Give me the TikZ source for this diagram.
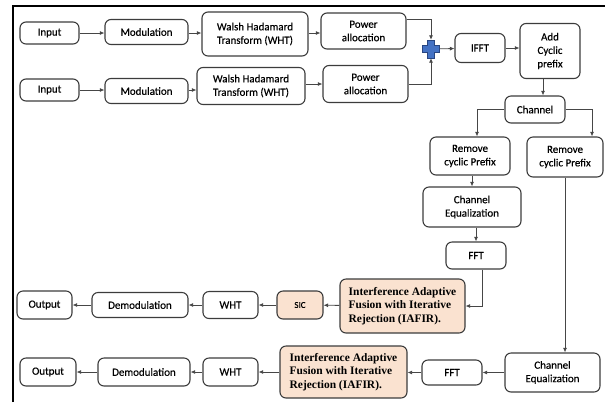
\documentclass[tikz,border=0pt]{standalone}
\usepackage{fontspec}
\setmainfont{Carlito}[BoldFont=Carlito, BoldFeatures={FakeBold=0.35}]
\newfontfamily\iafirfont{Liberation Serif}
\usetikzlibrary{arrows.meta}
\definecolor{boxline}{RGB}{60,60,60}
\definecolor{linkline}{RGB}{70,70,70}
\definecolor{peach}{RGB}{250,226,208}
\definecolor{plusfill}{RGB}{68,114,196}
\definecolor{plusline}{RGB}{40,70,130}
\tikzset{
    % Le style des blocs ordinaires de la chaine
    block/.style={
        draw=boxline,
        fill=white,
        line width=1.1bp,
        rounded corners=6bp,
        align=center,
        inner sep=1bp,
        font=\bfseries\fontsize{11}{13.5}\selectfont
    },
    % Le style des blocs de reception mis en avant (IAFIR, SIC)
    block_hl/.style={
        block,
        fill=peach
    },
    % Le style des liaisons entre blocs
    link/.style={
        draw=linkline,
        line width=0.8bp,
        -{Latex[length=4.5bp,width=4bp]}
    },
    % Le sommateur en forme de croix bleue
    summer/.style={
        minimum size=18bp,
        inner sep=0pt,
        path picture={
            \filldraw[fill=plusfill,draw=plusline,line width=0.6bp]
              ([xshift=-3.5bp,yshift=8.5bp]path picture bounding box.center) -- ++(7bp,0) -- ++(0,-5bp)
              -- ++(5bp,0) -- ++(0,-7bp) -- ++(-5bp,0) -- ++(0,-6bp) -- ++(-7bp,0)
              -- ++(0,6bp) -- ++(-5bp,0) -- ++(0,7bp) -- ++(5bp,0) -- cycle;
        }
    }
}

\begin{document}
\begin{tikzpicture}[x=1bp,y=-1bp]

    \useasboundingbox (0,0) rectangle (605,402);

    % --- 1. Cadre ---
    \draw[line width=2bp] (13,402) -- (13,6) -- (605,6);

    % --- 2. Emission : deux voies ---
    \node[block, minimum width=59bp, minimum height=22bp] (in1) at (49.5,33) {Input};
    \node[block, minimum width=83bp, minimum height=25bp] (mod1) at (146.5,32) {Modulation};
    \node[block, minimum width=106bp, minimum height=44bp] (wht1) at (255,34) {Walsh Hadamard\\Transform (WHT)};
    \node[block, minimum width=85bp, minimum height=36bp] (pa1) at (363.5,31) {Power\\allocation};

    \node[block, minimum width=59bp, minimum height=22bp] (in2) at (49.5,90) {Input};
    \node[block, minimum width=83bp, minimum height=25bp] (mod2) at (146.5,91) {Modulation};
    \node[block, minimum width=108bp, minimum height=37bp] (wht2) at (251,86) {Walsh Hadamard\\Transform (WHT)};
    \node[block, minimum width=85bp, minimum height=37bp] (pa2) at (365.5,84) {Power\\allocation};

    \node[summer] (plus) at (431,49) {};
    \node[block, minimum width=50bp, minimum height=29bp] (ifft) at (480,48) {IFFT};
    \node[block, minimum width=60bp, minimum height=55bp] (acp) at (550,51) {Add\\Cyclic\\prefix};
    \node[block, minimum width=60bp, minimum height=27bp] (chan) at (535,109.5) {Channel};

    % --- 3. Reception : voie avec SIC ---
    \node[block, minimum width=80bp, minimum height=38bp] (rcp1) at (470,156) {Remove\\cyclic Prefix};
    \node[block, minimum width=98bp, minimum height=40bp] (ceq1) at (472,207) {Channel\\Equalization};
    \node[block, minimum width=60bp, minimum height=27bp] (fft1) at (476,255.5) {FFT};
    \node[block_hl, minimum width=125bp, minimum height=54bp, align=left,
          font=\iafirfont\bfseries\fontsize{11.5}{13.3}\selectfont] (iafir1) at (402.5,306)
        {Interference Adaptive\\Fusion with Iterative\\Rejection (IAFIR).};
    \node[block_hl, minimum width=46bp, minimum height=28bp, font=\bfseries\fontsize{9}{11}\selectfont] (sic) at (300,305) {SIC};
    \node[block, minimum width=55bp, minimum height=27bp] (wht3) at (230.5,305) {WHT};
    \node[block, minimum width=96bp, minimum height=25bp] (demod1) at (140,305) {Demodulation};
    \node[block, minimum width=55bp, minimum height=28bp] (out1) at (44.5,305) {Output};

    % --- 4. Reception : voie directe ---
    \node[block, minimum width=76bp, minimum height=40bp] (rcp2) at (565,157) {Remove\\cyclic Prefix};
    \node[block, minimum width=95bp, minimum height=39bp] (ceq2) at (552.5,372.5) {Channel\\Equalization};
    \node[block, minimum width=60bp, minimum height=25bp] (fft2) at (452,372.5) {FFT};
    \node[block_hl, minimum width=127bp, minimum height=52bp, align=left,
          font=\iafirfont\bfseries\fontsize{11.5}{13.3}\selectfont] (iafir2) at (343.5,372)
        {Interference Adaptive\\Fusion with Iterative\\Rejection (IAFIR).};
    \node[block, minimum width=55bp, minimum height=28bp] (wht4) at (230.5,372) {WHT};
    \node[block, minimum width=92bp, minimum height=28bp] (demod2) at (144,372) {Demodulation};
    \node[block, minimum width=56bp, minimum height=28bp] (out2) at (48,372) {Output};

    % --- 5. Liaisons ---
    \draw[link] (in1) -- (mod1.west |- in1);
    \draw[link] (mod1.east |- in1) -- (wht1.west |- in1);
    \draw[link] (wht1.east |- in1) -- (pa1.west |- in1);
    \draw[link] (in2) -- (mod2.west |- in2);
    \draw[link] (mod2.east |- in2) -- (wht2.west |- in2);
    \draw[link] (wht2.east |- pa2) -- (pa2);
    \draw[link] ([yshift=12bp]pa1.east) -| (plus.north);
    \draw[link] (pa2.east) -| (plus.south);
    \draw[link] (plus) -- (ifft);
    \draw[link] (ifft) -- (acp.west |- ifft);
    \draw[link] ([xshift=-7bp]acp.south) -- ([xshift=-7bp]acp.south |- chan.north);
    \draw[link] (chan.west) -| ([xshift=7bp]rcp1.north);
    \draw[link] (chan.east) -| ([xshift=27bp]rcp2.north);

    \draw[link] (rcp1.south -| ceq1) -- (ceq1.north);
    \draw[link] (ceq1.south -| fft1) -- (fft1.north);
    \draw[link] ([xshift=6bp]fft1.south) |- (iafir1.east);
    \draw[link] (iafir1) -- (sic);
    \draw[link] (sic) -- (wht3);
    \draw[link] (wht3) -- (demod1);
    \draw[link] (demod1) -- (out1);

    \draw[link] (rcp2.south) -- (rcp2.south |- ceq2.north);
    \draw[link] (ceq2.west |- fft2) -- (fft2);
    \draw[link] (fft2.west) -- (iafir2.east |- fft2);
    \draw[link] (iafir2) -- (wht4);
    \draw[link] (wht4) -- (demod2);
    \draw[link] (demod2) -- (out2);

\end{tikzpicture}
\end{document}
